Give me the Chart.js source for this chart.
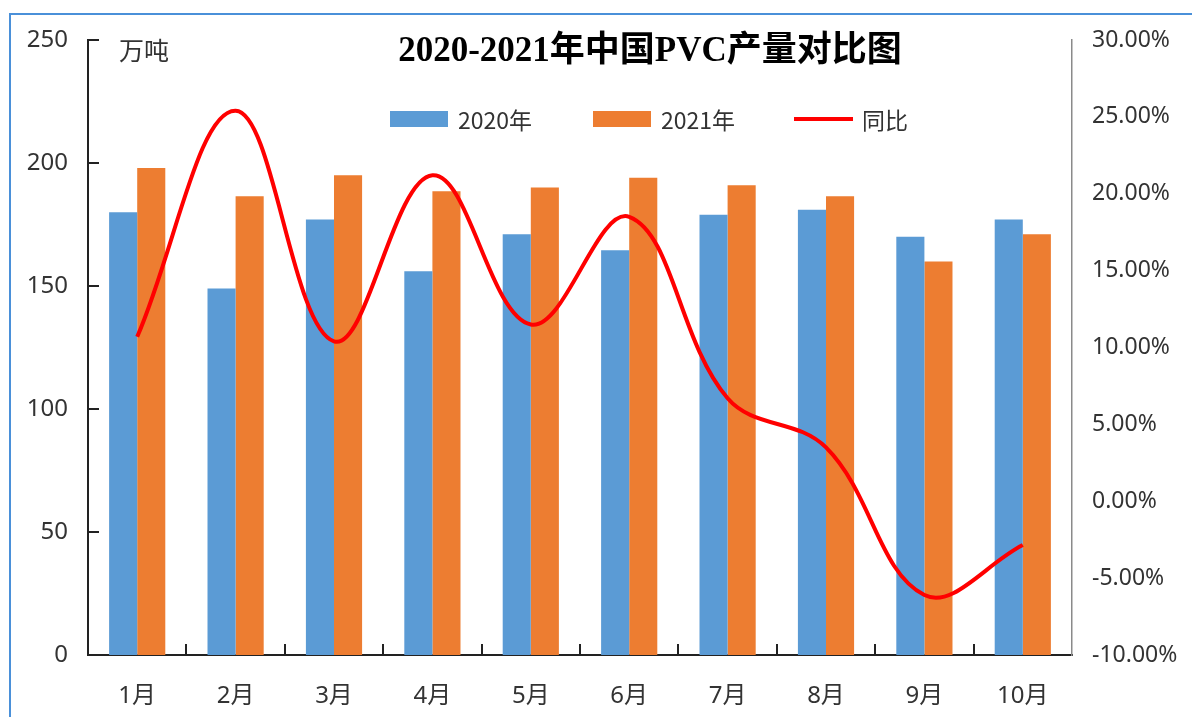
<!DOCTYPE html>
<html>
<head>
<meta charset="utf-8">
<script src="https://cdn.jsdelivr.net/npm/chart.js@4/dist/chart.umd.min.js"></script>
<style>
    html, body { margin: 0; padding: 0; background: #fff; }
    #wrap { width: 1192px; height: 717px; }
</style>
</head>
<body>
<div id="wrap"><canvas id="pvc-chart" width="1192" height="717"></canvas></div>
<script>
// data
const months = ['1月', '2月', '3月', '4月', '5月', '6月', '7月', '8月', '9月', '10月'];
const output2020 = [180, 149, 177, 156, 171, 164.5, 179, 181, 170, 177];
const output2021 = [198, 186.5, 195, 188.5, 190, 194, 191, 186.5, 160, 171];
const yoyPct = [10.7, 25.4, 10.4, 21.2, 11.5, 18.5, 6.7, 3.5, -6.1, -2.85];

const leftAxis = { min: 0, max: 250, step: 50 };
const rightAxis = { min: -10, max: 30, step: 5 };

const titleText = '2020-2021年中国PVC产量对比图';
const unitText = '万吨';

const BLUE = '#5B9BD5';
const ORANGE = '#ED7D31';
const RED = '#FF0000';
const TICK_FONT = '"Noto Sans", "Noto Sans CJK SC", sans-serif';

// title, legend, unit label, inner tick marks and the frame
const decorPlugin = {
    id: 'decor',
    beforeDraw(chart) {
        const ctx = chart.ctx;
        ctx.save();
        ctx.fillStyle = '#ffffff';
        ctx.fillRect(0, 0, chart.width, chart.height);
        ctx.strokeStyle = '#4A90D9';
        ctx.lineWidth = 2;
        ctx.beginPath();
        ctx.moveTo(10, chart.height);
        ctx.lineTo(10, 14);
        ctx.lineTo(chart.width, 14);
        ctx.stroke();
        ctx.restore();
    },
    afterDraw(chart) {
        const ctx = chart.ctx;
        const area = chart.chartArea;
        const x = chart.scales.x;
        const y = chart.scales.y;
        ctx.save();

        // ticks pointing into the plot
        ctx.strokeStyle = '#222';
        ctx.lineWidth = 2;
        y.ticks.forEach(t => {
            const py = Math.round(y.getPixelForValue(t.value));
            ctx.beginPath();
            ctx.moveTo(area.left, py);
            ctx.lineTo(area.left + 11, py);
            ctx.stroke();
        });
        for (let i = 1; i < months.length; i++) {
            const px = Math.round((x.getPixelForValue(i - 1) + x.getPixelForValue(i)) / 2);
            ctx.beginPath();
            ctx.moveTo(px, area.bottom);
            ctx.lineTo(px, area.bottom - 11);
            ctx.stroke();
        }

        // title
        ctx.fillStyle = '#000';
        ctx.font = 'bold 35px "Liberation Serif", "Noto Sans CJK SC", serif';
        ctx.textAlign = 'center';
        ctx.textBaseline = 'middle';
        ctx.fillText(titleText, 650, 52);

        // unit
        ctx.fillStyle = '#333';
        ctx.font = '25px "Noto Sans CJK SC", sans-serif';
        ctx.textAlign = 'left';
        ctx.fillText(unitText, 119, 50);

        // legend
        ctx.font = '23px "Noto Sans CJK SC", sans-serif';
        const ly = 119;
        const items = chart.data.datasets.map(d => ({ label: d.label, color: d.borderColor || d.backgroundColor, type: d.type }));
        const starts = [390, 593, 794];
        items.forEach((it, i) => {
            const sx = starts[i];
            if (it.type === 'line') {
                ctx.strokeStyle = it.color;
                ctx.lineWidth = 4;
                ctx.beginPath();
                ctx.moveTo(sx, ly);
                ctx.lineTo(sx + 59, ly);
                ctx.stroke();
            } else {
                ctx.fillStyle = it.color;
                ctx.fillRect(sx, ly - 8, 58, 16);
            }
            ctx.fillStyle = '#333';
            ctx.fillText(it.label, sx + 68, ly + 1);
        });
        ctx.restore();
    }
};

const ctx = document.getElementById('pvc-chart').getContext('2d');
new Chart(ctx, {
    data: {
        labels: months,
        datasets: [
            {
                type: 'bar',
                label: '2020年',
                data: output2020,
                backgroundColor: BLUE,
                yAxisID: 'y',
                order: 1,
                categoryPercentage: 0.571,
                barPercentage: 1.0
            },
            {
                type: 'bar',
                label: '2021年',
                data: output2021,
                backgroundColor: ORANGE,
                yAxisID: 'y',
                order: 1,
                categoryPercentage: 0.571,
                barPercentage: 1.0
            },
            {
                type: 'line',
                label: '同比',
                data: yoyPct,
                borderColor: RED,
                backgroundColor: RED,
                borderWidth: 4,
                pointRadius: 0,
                tension: 0.38,
                yAxisID: 'y1',
                order: 0
            }
        ]
    },
    options: {
        responsive: false,
        animation: false,
        devicePixelRatio: 1,
        layout: { padding: { top: 40, left: 0, right: 0, bottom: 0 } },
        plugins: {
            legend: { display: false },
            title: { display: false },
            tooltip: { enabled: false }
        },
        scales: {
            x: {
                grid: { display: false, drawTicks: false },
                border: { display: true, color: '#222', width: 2 },
                ticks: { color: '#333', padding: 27, font: { family: TICK_FONT, size: 24 } },
                afterFit: s => { s.height = 62; }
            },
            y: {
                position: 'left',
                min: leftAxis.min,
                max: leftAxis.max,
                grid: { display: false, drawTicks: false },
                border: { display: true, color: '#222', width: 2 },
                ticks: { stepSize: leftAxis.step, color: '#333', padding: 20, font: { family: TICK_FONT, size: 24 } },
                afterFit: s => { s.width = 88; }
            },
            y1: {
                position: 'right',
                min: rightAxis.min,
                max: rightAxis.max,
                grid: { display: false, drawTicks: false },
                border: { display: true, color: '#8a8a8a', width: 1.5 },
                ticks: {
                    stepSize: rightAxis.step,
                    color: '#333',
                    padding: 20,
                    font: { family: TICK_FONT, size: 23 },
                    callback: v => v.toFixed(2) + '%'
                },
                afterFit: s => { s.width = 120; }
            }
        }
    },
    plugins: [decorPlugin]
});
</script>
</body>
</html>
